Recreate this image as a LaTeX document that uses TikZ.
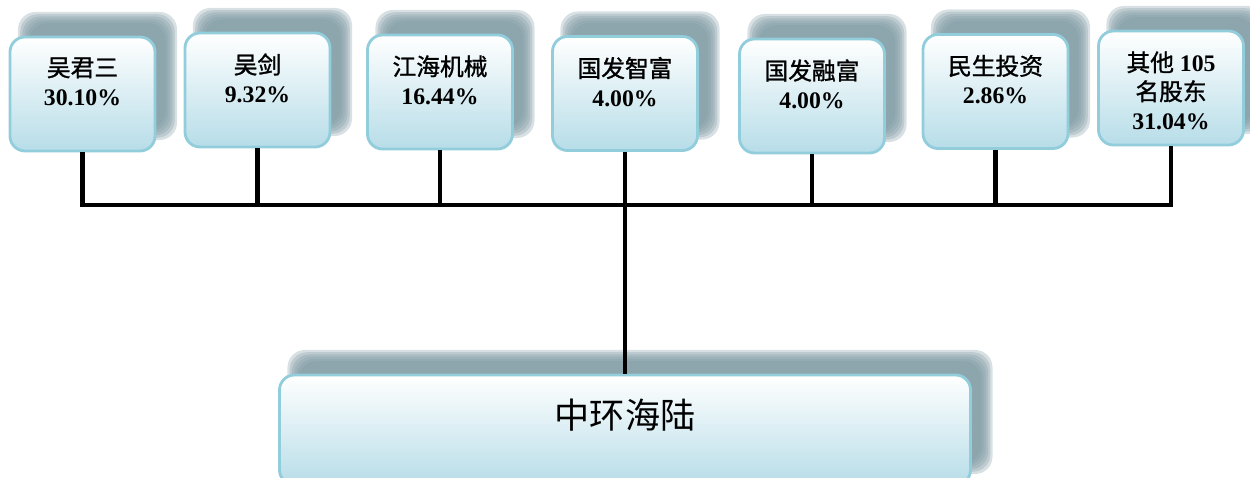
\documentclass[tikz,border=0pt]{standalone}
\usepackage{fontspec}
\setmainfont{Liberation Serif}
\newfontfamily\cjk{Noto Sans CJK SC}[BoldFont={Noto Sans CJK SC}, BoldFeatures={FakeBold=1.2}]
\usetikzlibrary{backgrounds}

\definecolor{edgeblue}{HTML}{92CDDC}
\definecolor{fillblue}{HTML}{B7DDE8}
\definecolor{shadowgray}{HTML}{7E9AA3}

\tikzset{
  holder/.style={draw=edgeblue, line width=1.6pt, rounded corners=0.3cm,
    top color=white, bottom color=fillblue,
    minimum width=2.9cm, minimum height=2.28cm, inner sep=0pt},
  share/.style={anchor=north, inner sep=0pt, align=center,
    font=\fontsize{13.5}{16.5}\selectfont\bfseries},
  link/.style={line width=2.8pt, black},
}

\begin{document}
\begin{tikzpicture}
\useasboundingbox (0,0) rectangle (25,9.56);
\clip (0,0) rectangle (25,9.56);

% shareholders along the top
\foreach \n/\x/\y/\txt in {
  b1/1.65/7.68/{{\cjk 吴君三}\\30.10\%},
  b2/5.15/7.76/{{\cjk 吴剑}\\9.32\%},
  b3/8.80/7.72/{{\cjk 江海机械}\\16.44\%},
  b4/12.50/7.69/{{\cjk 国发智富}\\4.00\%},
  b5/16.24/7.64/{{\cjk 国发融富}\\4.00\%},
  b6/19.91/7.73/{{\cjk 民生投资}\\2.86\%},
  b7/23.42/7.80/{{\cjk 其他} 105\\{\cjk 名股东}\\31.04\%}} {
  \node[holder] (\n) at (\x,\y) {};
  \node[share] at ([yshift=-0.43cm]\n.north) {\txt};
}

% the company
\node[holder, minimum width=13.82cm, minimum height=2.2cm] (main) at (12.5,0.96) {};
\node[font=\cjk\fontsize{20}{24}\selectfont] at (12.5,1.26) {中环海陆};

% soft shadows behind every box
\begin{pgfonlayer}{background}
  \foreach \n in {b1,b2,b3,b4,b5,b6,b7,main} {
    \foreach \k in {0,...,5} {
      \fill[shadowgray, opacity=0.3, rounded corners=0.35cm]
        ([shift={({0.3-(\k-2.5)*0.045},{0.36-(\k-2.5)*0.045})}]\n.south west) rectangle
        ([shift={({0.3+(\k-2.5)*0.045},{0.36+(\k-2.5)*0.045})}]\n.north east);
    }
  }
\end{pgfonlayer}

% connectors
\coordinate (bus) at (0,5.46);
\foreach \n in {b1,b2,b3,b4,b5,b6,b7} {
  \draw[link] (\n.south) -- (\n.south |- bus);
}
\draw[link, line cap=rect] (b1.south |- bus) -- (b7.south |- bus);
\draw[link] (b4.south) -- (main.north);
\end{tikzpicture}
\end{document}
